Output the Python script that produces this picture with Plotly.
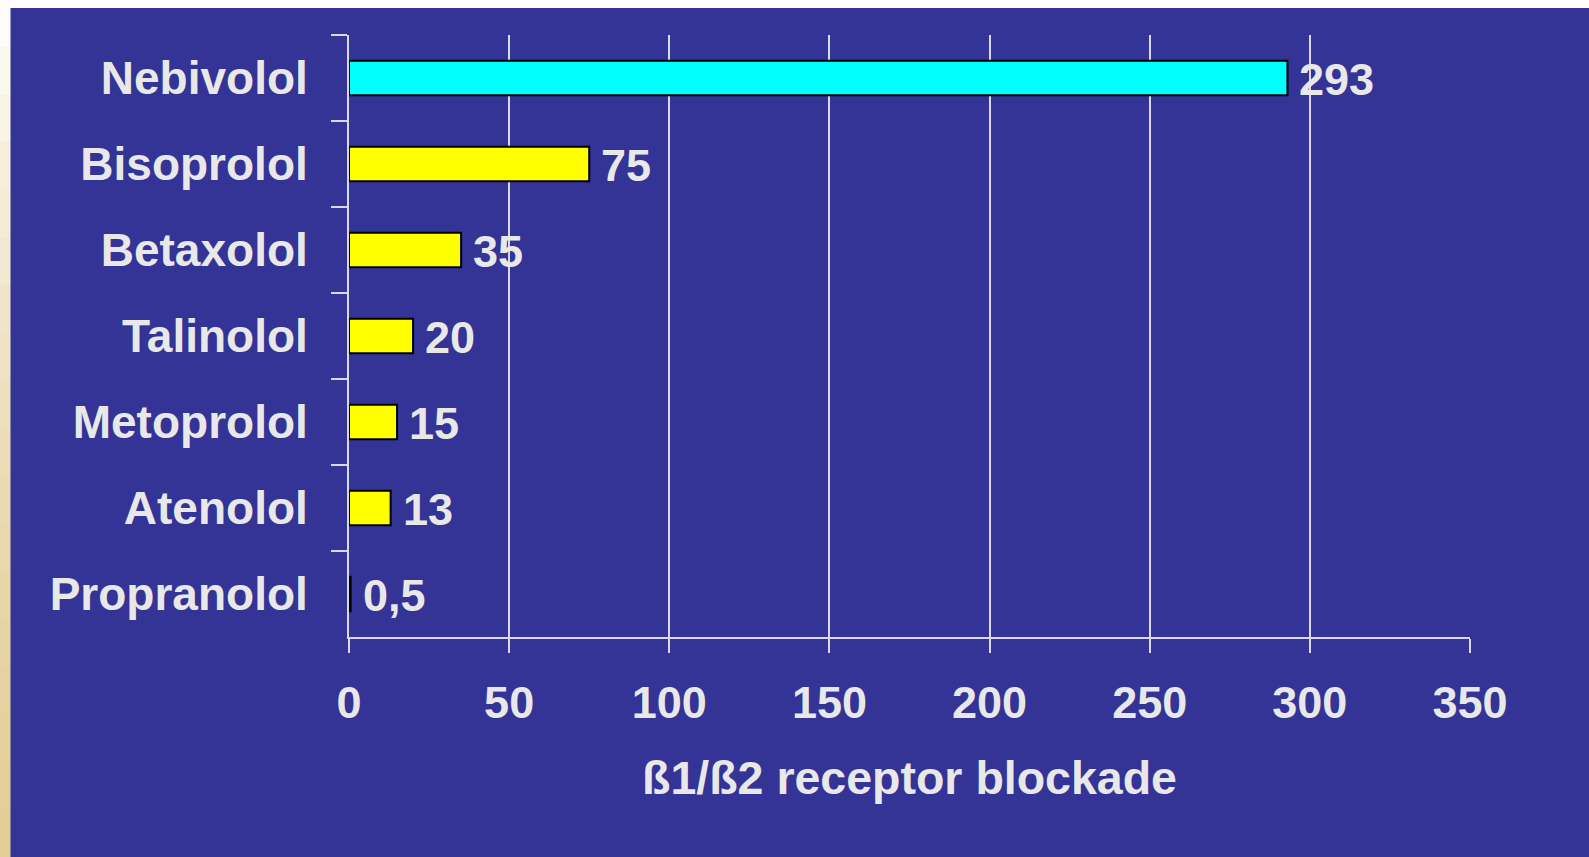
import plotly.graph_objects as go

# Beta-blocker selectivity (beta1/beta2 receptor blockade ratio)
drugs = ["Nebivolol", "Bisoprolol", "Betaxolol", "Talinolol", "Metoprolol", "Atenolol", "Propranolol"]
ratios = [293, 75, 35, 20, 15, 13, 0.5]
bar_colors = ["#00FFFF", "#FFFF00", "#FFFF00", "#FFFF00", "#FFFF00", "#FFFF00", "#FFFF00"]
x_ticks = [0, 50, 100, 150, 200, 250, 300, 350]
axis_title = "ß1/ß2 receptor blockade"

BG = "#343396"
FG = "#E8E8E8"
LINE = "#D8D8E8"
FONT = "Liberation Sans, Arial, sans-serif"
FS = 45

W, H = 1589, 857
ML, MR, MT, MB = 349, 119, 35, 220
PW, PH = W - ML - MR, H - MT - MB

fig = go.Figure()
fig.add_trace(go.Bar(
    x=ratios,
    y=drugs,
    orientation="h",
    width=0.4,
    marker=dict(color=bar_colors, line=dict(color="#000000", width=2)),
    hoverinfo="x+y",
))

# value labels just past the end of each bar
for name, v in zip(drugs, ratios):
    fig.add_annotation(
        x=v, y=name, xref="x", yref="y",
        text=f"{v:g}".replace(".", ","),
        showarrow=False, xanchor="left", yanchor="middle",
        xshift=10, yshift=-1,
        font=dict(family=FONT, size=FS, color=FG, weight="bold"),
    )

# slide frame: white strip along the top, cream band down the left edge
# (paper coordinates are relative to the plot area, so convert from pixels)
def px_x(p):
    return (p - ML) / PW

def px_y(p):
    return 1 - (p - MT) / PH

shapes = [dict(type="rect", xref="paper", yref="paper",
               x0=px_x(0), x1=px_x(W), y0=px_y(8), y1=px_y(0),
               line=dict(width=0), fillcolor="#FFFFFF", layer="below")]
strip_colors = ["#FDFCF8", "#FBF8EF", "#F9F4E6", "#F6EFDD", "#F4ECD6", "#F2E9D0",
                "#F0E5C9", "#EFE3C4", "#EDE0BE", "#ECDDB8", "#EADAB3", "#E9D8AE",
                "#E8D6A9", "#E7D4A5", "#E6D2A1", "#E5D19D", "#E4CF9A", "#E3CE97"]
n = len(strip_colors)
for i, c in enumerate(strip_colors):
    shapes.append(dict(type="rect", xref="paper", yref="paper",
                       x0=px_x(0), x1=px_x(10),
                       y0=px_y(H * (i + 1) / n), y1=px_y(H * i / n),
                       line=dict(width=1, color=c), fillcolor=c, layer="below"))

fig.update_layout(
    width=W, height=H,
    paper_bgcolor=BG, plot_bgcolor=BG,
    margin=dict(l=ML, r=MR, t=MT, b=MB, pad=0),
    showlegend=False,
    font=dict(family=FONT, color=FG, size=FS, weight="bold"),
    xaxis=dict(
        range=[0, 350],
        tickvals=x_ticks,
        ticktext=[str(t) for t in x_ticks],
        showgrid=True, gridcolor=LINE, gridwidth=1.5,
        zeroline=False,
        showline=True, linecolor=LINE, linewidth=1.5,
        ticks="outside", ticklen=14, tickwidth=1.5, tickcolor=LINE,
        ticklabelstandoff=11,
        tickfont=dict(family=FONT, size=FS, color=FG, weight="bold"),
        title=dict(text=axis_title, standoff=35,
                   font=dict(family=FONT, size=46.5, color=FG, weight="bold")),
        fixedrange=True,
    ),
    yaxis=dict(
        type="category",
        categoryorder="array", categoryarray=drugs,
        autorange="reversed",
        showgrid=False, zeroline=False,
        showline=True, linecolor=LINE, linewidth=2,
        ticks="outside", tickson="boundaries", ticklen=16, tickwidth=1.5, tickcolor=LINE,
        ticklabelstandoff=30,
        tickfont=dict(family=FONT, size=46, color=FG, weight="bold"),
        fixedrange=True,
    ),
    shapes=shapes,
)

fig.write_html("out.html", config={"displayModeBar": False})
